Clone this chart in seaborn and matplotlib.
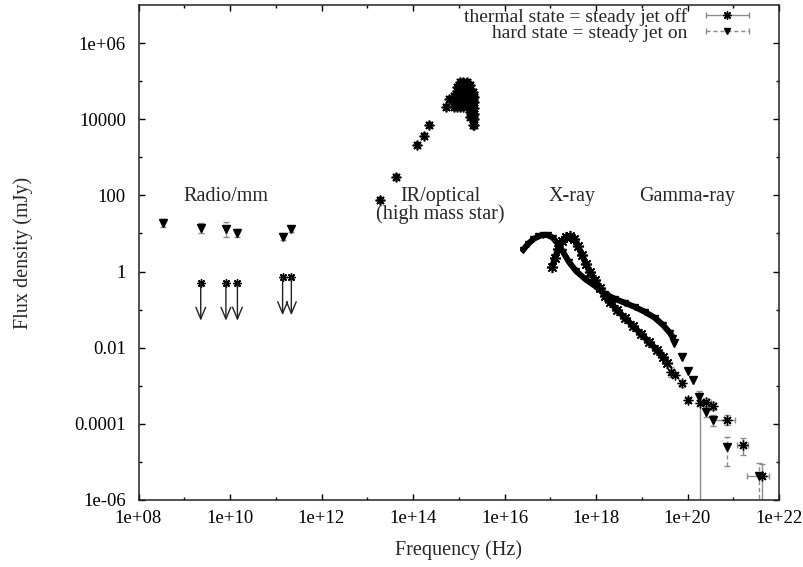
import matplotlib
matplotlib.use('Agg')
import matplotlib.pyplot as plt
import numpy as np
import pandas as pd
import seaborn as sns
from matplotlib.lines import Line2D
from matplotlib.legend_handler import HandlerLine2D
from matplotlib.ticker import FixedLocator, FuncFormatter, NullFormatter

sns.set_style('ticks')
plt.rcParams['font.family'] = ['Liberation Serif', 'DejaVu Serif']
plt.rcParams['font.size'] = 14

# ---- data (frequency in Hz, flux density in mJy) ----
# radio/mm, hard state detections
radio_freq = [3.47e8, 2.29e9, 8.13e9, 1.45e10, 1.41e11, 2.19e11]
radio_hard = [18.5, 13.7, 12.9, 10.1, 8.2, 12.9]
radio_hard_lo = [14.5, 10.5, 7.9, 8.2, 6.7, 11.2]
radio_hard_hi = [23.5, 18.8, 20.4, 13.1, 10.5, 15.1]

# radio/mm, thermal state upper limits
lim_freq = [2.29e9, 8.13e9, 1.45e10, 1.41e11, 2.19e11]
lim_thermal = [0.51, 0.51, 0.51, 0.71, 0.71]

# IR/optical (companion star, same in both states)
ir_freq = [1.91e13, 4.27e13, 1.23e14, 1.70e14, 2.24e14, 5.13e14, 6.03e14,
           7.94e14, 7.94e14, 7.94e14,
           9.12e14, 9.12e14, 9.12e14, 9.12e14, 9.12e14,
           1.07e15, 1.07e15, 1.07e15, 1.07e15, 1.07e15, 1.07e15,
           1.26e15, 1.26e15, 1.26e15, 1.26e15, 1.26e15, 1.26e15,
           1.48e15, 1.48e15, 1.48e15, 1.48e15, 1.48e15, 1.48e15,
           1.74e15, 1.74e15, 1.74e15, 1.74e15, 1.74e15, 1.74e15, 1.74e15,
           2.00e15, 2.00e15, 2.00e15, 2.00e15, 2.00e15, 2.00e15, 2.00e15,
           2.20e15, 2.20e15, 2.20e15, 2.20e15, 2.20e15, 2.20e15]
ir_flux = [75.7, 299, 2110, 3630, 6920, 21400, 33100,
           2.09e4, 2.88e4, 3.98e4,
           2.09e4, 2.88e4, 3.98e4, 5.50e4, 7.08e4,
           2.09e4, 2.88e4, 3.98e4, 5.50e4, 7.59e4, 9.55e4,
           2.09e4, 2.88e4, 3.98e4, 5.50e4, 7.59e4, 9.55e4,
           2.29e4, 3.16e4, 4.37e4, 6.03e4, 8.32e4, 9.55e4,
           1.12e4, 1.58e4, 2.24e4, 3.16e4, 4.47e4, 6.31e4, 7.94e4,
           7.2e3, 1.0e4, 1.41e4, 2.0e4, 2.82e4, 3.98e4, 5.25e4,
           7.1e3, 1.0e4, 1.41e4, 2.0e4, 2.82e4, 3.80e4]

# X-ray spectra
xray_hard_freq = [2.54e16, 3.27e16, 4.20e16, 5.40e16, 6.95e16, 8.93e16, 1.15e17,
                  1.48e17, 1.90e17, 2.57e17, 3.66e17, 5.75e17, 9.51e17, 1.57e18,
                  2.60e18, 4.31e18, 7.11e18, 1.18e19, 1.95e19, 2.91e19, 4.14e19, 4.82e19]
xray_hard_flux = [3.68, 5.30, 6.95, 8.34, 9.12, 9.12, 7.60,
                  5.30, 3.27, 1.78, 1.035, 0.638, 0.418, 0.258,
                  0.191, 0.150, 0.117, 0.0867, 0.0604, 0.0395, 0.0244, 0.0180]
xray_thermal_freq = [1.09e17, 1.27e17, 1.48e17, 1.81e17, 2.21e17, 2.70e17, 3.30e17,
                     4.05e17, 4.94e17, 6.04e17, 7.40e17, 9.51e17, 1.22e18, 1.57e18,
                     2.02e18, 2.88e18, 4.31e18, 6.44e18, 9.64e18, 1.44e19, 2.15e19,
                     2.91e19, 3.56e19]
xray_thermal_flux = [1.32, 2.27, 3.91, 6.35, 8.09, 8.59, 7.16,
                     4.69, 2.72, 1.58, 0.973, 0.600, 0.370, 0.228,
                     0.159, 0.0977, 0.0603, 0.0372, 0.0229, 0.0141, 0.00869,
                     0.00570, 0.00397]

# gamma-ray points
gam_th_freq = [4.36e19, 5.33e19, 7.46e19, 1.04e20, 1.87e20, 2.54e20, 3.56e20, 7.41e20, 1.61e21, 4.19e21]
gam_th_flux = [2.30e-3, 1.92e-3, 1.16e-3, 4.24e-4, 3.47e-4, 3.82e-4, 2.94e-4, 1.26e-4, 2.79e-5, 4.28e-6]
gam_th_flo = [1.7e-3, 1.92e-3, 9.0e-4, 3.5e-4, 1e-9, 3.0e-4, 2.3e-4, 9.3e-5, 1.5e-5, 1e-9]
gam_th_fhi = [3.1e-3, 1.92e-3, 1.4e-3, 5.2e-4, 6.4e-4, 4.8e-4, 3.7e-4, 1.7e-4, 4.3e-5, 8.9e-6]
gam_th_nlo = [4.36e19, 5.33e19, 7.46e19, 1.04e20, 1.87e20, 2.05e20, 3.56e20, 3.8e20, 1.19e21, 2.04e21]
gam_th_nhi = [4.36e19, 5.33e19, 7.46e19, 1.04e20, 1.87e20, 3.2e20, 3.56e20, 1.1e21, 2.14e21, 6.17e21]

gam_hd_freq = [5.14e19, 7.46e19, 1.04e20, 1.30e20, 1.81e20, 2.54e20, 3.56e20, 7.41e20, 3.72e21]
gam_hd_flux = [1.31e-2, 5.81e-3, 2.45e-3, 1.42e-3, 4.99e-4, 2.09e-4, 1.26e-4, 2.43e-5, 4.28e-6]
gam_hd_flo = [1.31e-2, 5.81e-3, 2.45e-3, 1.42e-3, 4.2e-4, 1.55e-4, 8.7e-5, 7.8e-6, 1e-9]
gam_hd_fhi = [1.31e-2, 5.81e-3, 2.45e-3, 1.42e-3, 7.5e-4, 2.8e-4, 1.7e-4, 4.5e-5, 9.3e-6]

star = (8, 2, 0)
err_color = '#8c8c8c'

fig = plt.figure(figsize=(8.04, 5.67), dpi=100)
ax = fig.add_axes([0.1723, 0.1182, 0.7966, 0.873])
ax.set_xscale('log')
ax.set_yscale('log')
ax.set_xlim(1e8, 1e22)
ax.set_ylim(1e-6, 1e7)


def asym(vals, lo, hi):
    v, lo, hi = np.array(vals), np.array(lo), np.array(hi)
    return np.vstack([v - lo, hi - v])


## error bars
# radio hard (dashed)
eb = ax.errorbar(radio_freq, radio_hard, yerr=asym(radio_hard, radio_hard_lo, radio_hard_hi),
                 fmt='none', ecolor=err_color, elinewidth=1, capsize=2)
for lc in eb[2]:
    lc.set_linestyle((0, (3, 2)))

# gamma thermal (solid)
th_f = np.array(gam_th_flux)
mask = (np.array(gam_th_fhi) > np.array(gam_th_flo)) | (np.array(gam_th_nhi) > np.array(gam_th_nlo))
ax.errorbar(np.array(gam_th_freq)[mask], th_f[mask],
            yerr=asym(gam_th_flux, gam_th_flo, gam_th_fhi)[:, mask],
            xerr=asym(gam_th_freq, gam_th_nlo, gam_th_nhi)[:, mask],
            fmt='none', ecolor=err_color, elinewidth=1, capsize=2)

# gamma hard (dashed)
hmask = np.array(gam_hd_fhi) > np.array(gam_hd_flo)
eb = ax.errorbar(np.array(gam_hd_freq)[hmask], np.array(gam_hd_flux)[hmask],
                 yerr=asym(gam_hd_flux, gam_hd_flo, gam_hd_fhi)[:, hmask],
                 fmt='none', ecolor=err_color, elinewidth=1, capsize=2)
for lc in eb[2]:
    lc.set_linestyle((0, (3, 2)))

## X-ray curves
xr_hard = pd.DataFrame({'freq': xray_hard_freq, 'flux': xray_hard_flux})
xr_th = pd.DataFrame({'freq': xray_thermal_freq, 'flux': xray_thermal_flux})
sns.lineplot(data=xr_hard, x='freq', y='flux', color='black', lw=4.3,
             estimator=None, sort=False, ax=ax)
sns.lineplot(data=xr_th, x='freq', y='flux', color='black', lw=4.3,
             estimator=None, sort=False, ax=ax)
ax.plot(xray_thermal_freq, xray_thermal_flux, ls='none', marker=star, ms=8, mew=1.2, color='black')
ax.plot(xray_hard_freq, xray_hard_flux, ls='none', marker='v', ms=4, color='black')

## markers
ax.plot(radio_freq, radio_hard, ls='none', marker='v', ms=6, color='black')
ax.plot(lim_freq, lim_thermal, ls='none', marker=star, ms=6, mew=1, color='black')
for f, v in zip(lim_freq, lim_thermal):
    ax.annotate('', xy=(f, v * 0.1), xytext=(f, v),
                arrowprops=dict(arrowstyle='->,head_length=0.6,head_width=0.25',
                                color='#222222', lw=1, shrinkA=0, shrinkB=0))

ax.plot(ir_freq, ir_flux, ls='none', marker=star, ms=7, mew=1.2, color='black')
ax.plot(ir_freq, ir_flux, ls='none', marker='v', ms=5, color='black')

ax.plot(gam_th_freq, gam_th_flux, ls='none', marker=star, ms=7, mew=1, color='black')
ax.plot(gam_hd_freq, gam_hd_flux, ls='none', marker='v', ms=6, color='black')

## region labels
lab_size = 14.5
ax.text(8.1e9, 91, 'Radio/mm', ha='center', va='center', fontsize=lab_size)
ax.text(4.0e14, 54, 'IR/optical\n(high mass star)', ha='center', va='center',
        multialignment='center', linespacing=0.88, fontsize=lab_size)
ax.text(3.0e17, 91, 'X-ray', ha='center', va='center', fontsize=lab_size)
ax.text(1.0e20, 91, 'Gamma-ray', ha='center', va='center', fontsize=lab_size)

## axes styling
ax.xaxis.set_major_locator(FixedLocator(10.0 ** np.arange(8, 23, 2)))
ax.xaxis.set_minor_locator(FixedLocator(10.0 ** np.arange(9, 22, 2)))
ax.yaxis.set_major_locator(FixedLocator(10.0 ** np.arange(-6, 7, 2)))
ax.yaxis.set_minor_locator(FixedLocator(10.0 ** np.arange(-5, 7, 2)))
fmt = FuncFormatter(lambda v, p: '%g' % v)
ax.xaxis.set_major_formatter(fmt)
ax.yaxis.set_major_formatter(fmt)
ax.xaxis.set_minor_formatter(NullFormatter())
ax.yaxis.set_minor_formatter(NullFormatter())
ax.tick_params(which='both', direction='in', top=True, right=True, width=1, colors='black')
ax.tick_params(which='major', length=4.5, labelsize=13.5)
ax.tick_params(which='minor', length=2.5)
ax.tick_params(axis='x', pad=7)
ax.tick_params(axis='y', pad=9)
for s in ax.spines.values():
    s.set_linewidth(1.1)
    s.set_color('#222222')

ax.set_xlabel('Frequency (Hz)', fontsize=lab_size)
ax.set_ylabel('Flux density (mJy)', fontsize=lab_size)
ax.xaxis.set_label_coords(0.5, -0.101)
ax.xaxis.label.set_verticalalignment('center')
ax.yaxis.set_label_coords(-0.18, 0.5)
ax.yaxis.label.set_verticalalignment('center')

## legend (gnuplot style key)
cap_th = Line2D([], [], color=err_color, lw=1, marker='|', ms=5, mew=1)
cap_hd = Line2D([], [], color=err_color, lw=1, ls=(0, (3, 2)), marker='|', ms=5, mew=1)
mk_th = Line2D([], [], color='black', ls='none', marker=star, ms=6, mew=1)
mk_hd = Line2D([], [], color='black', ls='none', marker='v', ms=5)
ax.legend([(cap_th, mk_th), (cap_hd, mk_hd)],
          ['thermal state = steady jet off', 'hard state = steady jet on'],
          handler_map={cap_th: HandlerLine2D(numpoints=2), cap_hd: HandlerLine2D(numpoints=2),
                       mk_th: HandlerLine2D(numpoints=1), mk_hd: HandlerLine2D(numpoints=1)},
          loc='upper right', bbox_to_anchor=(755 / 804, 1 - 8 / 567),
          bbox_transform=fig.transFigure, frameon=False, markerfirst=False,
          handlelength=2.83, handletextpad=0.65, borderpad=0, borderaxespad=0,
          labelspacing=-0.07, fontsize=14)

fig.savefig('out.png', dpi=100)
